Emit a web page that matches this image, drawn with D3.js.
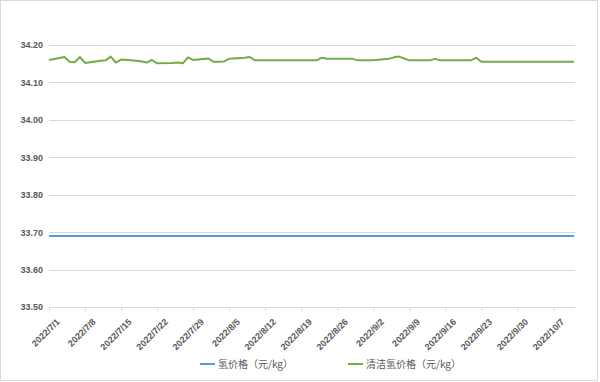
<!DOCTYPE html>
<html>
<head>
<meta charset="utf-8">
<script src="https://cdn.jsdelivr.net/npm/d3@7"></script>
<style>
  body { margin: 0; background: #fff; }
  text { font-family: "Liberation Sans", "DejaVu Sans", sans-serif; }
  .legend text { font-family: "Noto Sans CJK SC", sans-serif; }
</style>
</head>
<body>
<div id="chart"></div>
<script>
// trading days
var dates = [
    "2022/7/1", "2022/7/4", "2022/7/5", "2022/7/6", "2022/7/7", "2022/7/8",
    "2022/7/11", "2022/7/12", "2022/7/13", "2022/7/14", "2022/7/15",
    "2022/7/18", "2022/7/19", "2022/7/20", "2022/7/21", "2022/7/22",
    "2022/7/25", "2022/7/26", "2022/7/27", "2022/7/28", "2022/7/29",
    "2022/8/1", "2022/8/2", "2022/8/3", "2022/8/4", "2022/8/5",
    "2022/8/8", "2022/8/9", "2022/8/10", "2022/8/11", "2022/8/12",
    "2022/8/15", "2022/8/16", "2022/8/17", "2022/8/18", "2022/8/19",
    "2022/8/22", "2022/8/23", "2022/8/24", "2022/8/25", "2022/8/26",
    "2022/8/29", "2022/8/30", "2022/8/31", "2022/9/1", "2022/9/2",
    "2022/9/5", "2022/9/6", "2022/9/7", "2022/9/8", "2022/9/9",
    "2022/9/12", "2022/9/13", "2022/9/14", "2022/9/15", "2022/9/16",
    "2022/9/19", "2022/9/20", "2022/9/21", "2022/9/22", "2022/9/23",
    "2022/9/26", "2022/9/27", "2022/9/28", "2022/9/29", "2022/9/30",
    "2022/10/3", "2022/10/4", "2022/10/5", "2022/10/6", "2022/10/7",
    "2022/10/10", "2022/10/11"
];

// 清洁氢价格 (元/kg)
var cleanH2 = [
    34.160, 34.168, 34.155, 34.154, 34.168, 34.152,
    34.158, 34.159, 34.169, 34.153, 34.161,
    34.158, 34.156, 34.153, 34.160, 34.151,
    34.152, 34.153, 34.151, 34.167, 34.160,
    34.164, 34.155, 34.155, 34.156, 34.163,
    34.166, 34.168, 34.159, 34.159, 34.159,
    34.159, 34.159, 34.159, 34.159, 34.159,
    34.159, 34.166, 34.163, 34.163, 34.163,
    34.163, 34.159, 34.159, 34.159, 34.159,
    34.163, 34.167, 34.169, 34.164, 34.159,
    34.159, 34.159, 34.163, 34.159, 34.159,
    34.159, 34.159, 34.159, 34.166, 34.155,
    34.155, 34.155, 34.155, 34.155, 34.155,
    34.155, 34.155, 34.155, 34.155, 34.155,
    34.155, 34.155
];

// 氢价格 (元/kg)
var h2 = [
    33.69, 33.69, 33.69, 33.69, 33.69, 33.69,
    33.69, 33.69, 33.69, 33.69, 33.69,
    33.69, 33.69, 33.69, 33.69, 33.69,
    33.69, 33.69, 33.69, 33.69, 33.69,
    33.69, 33.69, 33.69, 33.69, 33.69,
    33.69, 33.69, 33.69, 33.69, 33.69,
    33.69, 33.69, 33.69, 33.69, 33.69,
    33.69, 33.69, 33.69, 33.69, 33.69,
    33.69, 33.69, 33.69, 33.69, 33.69,
    33.69, 33.69, 33.69, 33.69, 33.69,
    33.69, 33.69, 33.69, 33.69, 33.69,
    33.69, 33.69, 33.69, 33.69, 33.69,
    33.69, 33.69, 33.69, 33.69, 33.69,
    33.69, 33.69, 33.69, 33.69, 33.69,
    33.69, 33.69
];

var tickDates = [
    "2022/7/1", "2022/7/8", "2022/7/15", "2022/7/22", "2022/7/29",
    "2022/8/5", "2022/8/12", "2022/8/19", "2022/8/26", "2022/9/2",
    "2022/9/9", "2022/9/16", "2022/9/23", "2022/9/30", "2022/10/7"
];

var yTicks = [33.50, 33.60, 33.70, 33.80, 33.90, 34.00, 34.10, 34.20];

var seriesNames = ["氢价格（元/kg）", "清洁氢价格（元/kg）"];
var seriesColors = ["#5b9bd5", "#70ad47"];

var w = 600,
    h = 382;

var margin = {left: 49, right: 25, top: 45, bottom: 75};

var parse = d3.timeParse("%Y/%m/%d");

var svg = d3.select("#chart").append("svg")
    .attr("width", w)
    .attr("height", h);

// outer frame
svg.append("rect")
    .attr("x", 0.5)
    .attr("y", 0.5)
    .attr("width", w - 3)
    .attr("height", h - 2)
    .attr("fill", "#fff")
    .attr("stroke", "#d9d9d9");

var x = d3.scaleTime()
    .domain([parse(dates[0]), parse(dates[dates.length - 1])])
    .range([margin.left, w - margin.right - 1]);

var y = d3.scaleLinear()
    .domain([33.5, 34.2])
    .range([h - margin.bottom, margin.top]);

// horizontal gridlines
svg.append("g")
    .selectAll("line")
    .data(yTicks.slice(1))
    .enter().append("line")
    .attr("x1", margin.left)
    .attr("x2", w - margin.right)
    .attr("y1", function(d) { return Math.round(y(d)) + 0.5; })
    .attr("y2", function(d) { return Math.round(y(d)) + 0.5; })
    .attr("stroke", "#d9d9d9")
    .attr("stroke-width", 1);

// y axis labels
var yAxis = svg.append("g")
    .attr("transform", "translate(" + margin.left + ",0)")
    .call(d3.axisLeft(y).tickValues(yTicks).tickFormat(d3.format(".2f")).tickSize(0).tickPadding(6));
yAxis.select(".domain").remove();
yAxis.selectAll("text")
    .attr("fill", "#595959")
    .style("font-size", "9px")
    .style("font-weight", "bold");

// x axis
var xAxis = svg.append("g")
    .attr("transform", "translate(0," + (Math.round(y(33.5)) + 0.5) + ")")
    .call(d3.axisBottom(x)
        .tickValues(tickDates.map(parse))
        .tickFormat(d3.timeFormat("%Y/%-m/%-d"))
        .tickSizeOuter(0)
        .tickSize(4));
xAxis.select(".domain")
    .attr("d", "M" + margin.left + ",0H" + (w - margin.right))
    .attr("stroke", "#d9d9d9");
xAxis.selectAll(".tick line").attr("stroke", "#d9d9d9");
xAxis.selectAll("text")
    .attr("fill", "#595959")
    .style("font-size", "9px")
    .style("font-weight", "bold")
    .attr("text-anchor", "end")
    .attr("dy", "0.3em")
    .attr("transform", "translate(4,8) rotate(-45)");

// lines
var line = d3.line()
    .x(function(d) { return x(d.date); })
    .y(function(d) { return y(d.value); });

[h2, cleanH2].forEach(function(series, i) {
    var pts = series.map(function(v, j) {
        return {date: parse(dates[j]), value: v};
    });
    svg.append("path")
        .datum(pts)
        .attr("fill", "none")
        .attr("stroke", seriesColors[i])
        .attr("stroke-width", 2)
        .attr("stroke-linejoin", "round")
        .attr("d", line);
});

// legend
var legend = svg.append("g").attr("class", "legend");
var legendX = [200, 348];
seriesNames.forEach(function(name, i) {
    legend.append("line")
        .attr("x1", legendX[i])
        .attr("x2", legendX[i] + 15)
        .attr("y1", 364)
        .attr("y2", 364)
        .attr("stroke", seriesColors[i])
        .attr("stroke-width", 2);
    legend.append("text")
        .attr("x", legendX[i] + 18)
        .attr("y", 364)
        .attr("dy", "0.35em")
        .attr("fill", "#595959")
        .style("font-size", "10px")
        .text(name);
});
</script>
</body>
</html>
